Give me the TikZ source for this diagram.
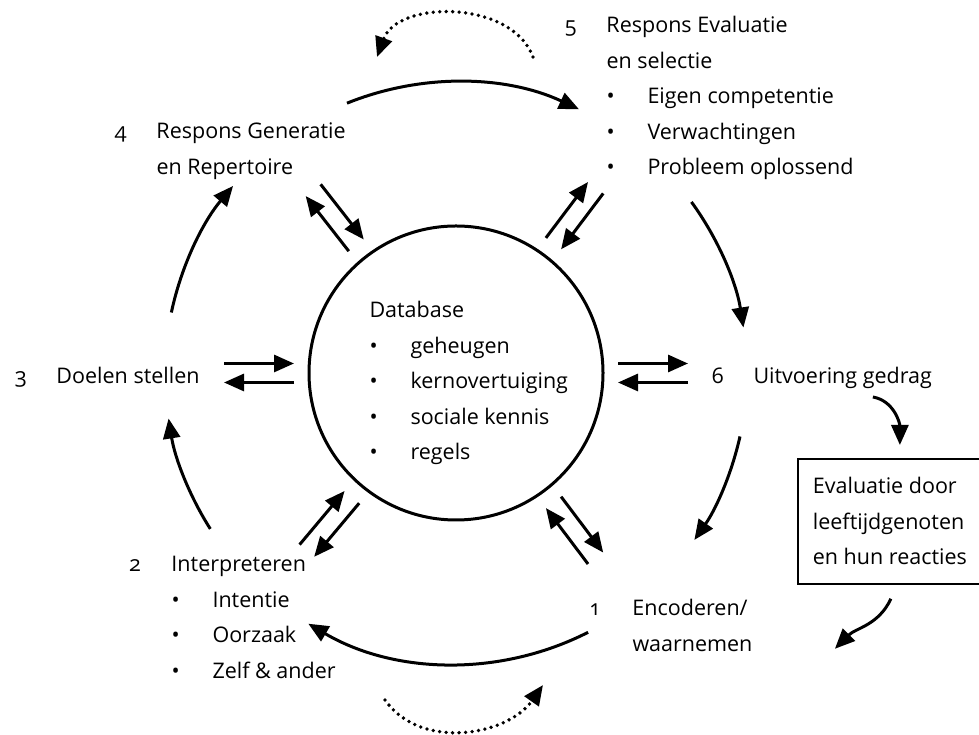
\documentclass[tikz,border=0pt]{standalone}
\usepackage{fontspec}
\setmainfont{Open Sans}[Numbers=OldStyle]
\usetikzlibrary{arrows.meta, calc, positioning}
\newcommand{\bul}{\makebox[41pt][l]{\textbullet}}
\newenvironment{stap}{\begin{tabular}[t]{@{}p{42pt}@{}l@{}}}{\end{tabular}}

\begin{document}
\begin{tikzpicture}[x=1pt, y=1pt, font=\fontsize{21.5}{35.5}\selectfont,
    >={Triangle[length=20pt,width=17pt]}, line width=3pt,
    stage/.style={anchor=base west, inner sep=0pt},
    dots/.style={->, line width=3.8pt, dash pattern=on 0pt off 6.5pt, line cap=round},
    evalbox/.style={draw, line width=1.8pt, anchor=north west, inner xsep=15pt, minimum width=180pt, minimum height=125pt, align=left}]
    \useasboundingbox (0,0) rectangle (979,735);

    \node[circle, draw, minimum size=294pt] (db) at (456,362) {};
    \node[stage] (dbtext) at (368,417) {\begin{tabular}[t]{@{}l@{}}
        Database\\ \bul geheugen\\ \bul kernovertuiging\\ \bul sociale kennis\\ \bul regels\end{tabular}};

    \node[stage] (s5) at (563,702) {\begin{stap} 5 & Respons Evaluatie\\ & en selectie\\
        & \bul Eigen competentie\\ & \bul Verwachtingen\\ & \bul Probleem oplossend\end{stap}};
    \node[stage] (s4) at (113,596) {\begin{stap} 4 & Respons Generatie\\ & en Repertoire\end{stap}};
    \node[stage] (s3) at (13,351) {\begin{stap} 3 & Doelen stellen\end{stap}};
    \node[stage] (s6) at (710,351) {\begin{stap} 6 & Uitvoering gedrag\end{stap}};
    \node[stage] (s2) at (128,163) {\begin{stap} 2 & Interpreteren\\ & \bul Intentie\\
        & \bul Oorzaak\\ & \bul Zelf \& ander\end{stap}};
    \node[stage] (s1) at (589,119) {\begin{stap} 1 & Encoderen/\\ & waarnemen\end{stap}};
    \node[evalbox] (eval) at (797,277) {Evaluatie door\\ leeftijdgenoten\\ en hun reacties};

    \foreach \a in {0,53,128,180,230,307} {
        \draw[->] ($(db.center)+(\a:162)+(\a+90:9.5)$) -- ($(db.center)+(\a:232)+(\a+90:9.5)$);
        \draw[->] ($(db.center)+(\a:232)+(\a-90:9.5)$) -- ($(db.center)+(\a:162)+(\a-90:9.5)$);
    }
    \foreach \s/\e in {112/65, 36/9, -12.6/-35, -63/-120.5, 212.4/189, 168/140}
        \draw[->] ($(db.center)+(\s:291)$) arc[start angle=\s, end angle=\e, radius=291];

    \draw[dots] ($(db.center)+(77,316)$) to[out=110, in=70] ($(db.center)+(-79,316)$);
    \draw[dots] ($(db.center)+(-71,-327)$) to[out=-55, in=-125] ($(db.center)+(87,-312)$);

    \draw[->] ($(eval.north)+(-17,61)$) to[out=-10, in=90] ($(eval.north)+(10,13)$);
    \draw[->] ($(eval.south)+(1,-14)$) to[out=-115, in=45] ($(eval.south)+(-55,-64)$);
\end{tikzpicture}
\end{document}
